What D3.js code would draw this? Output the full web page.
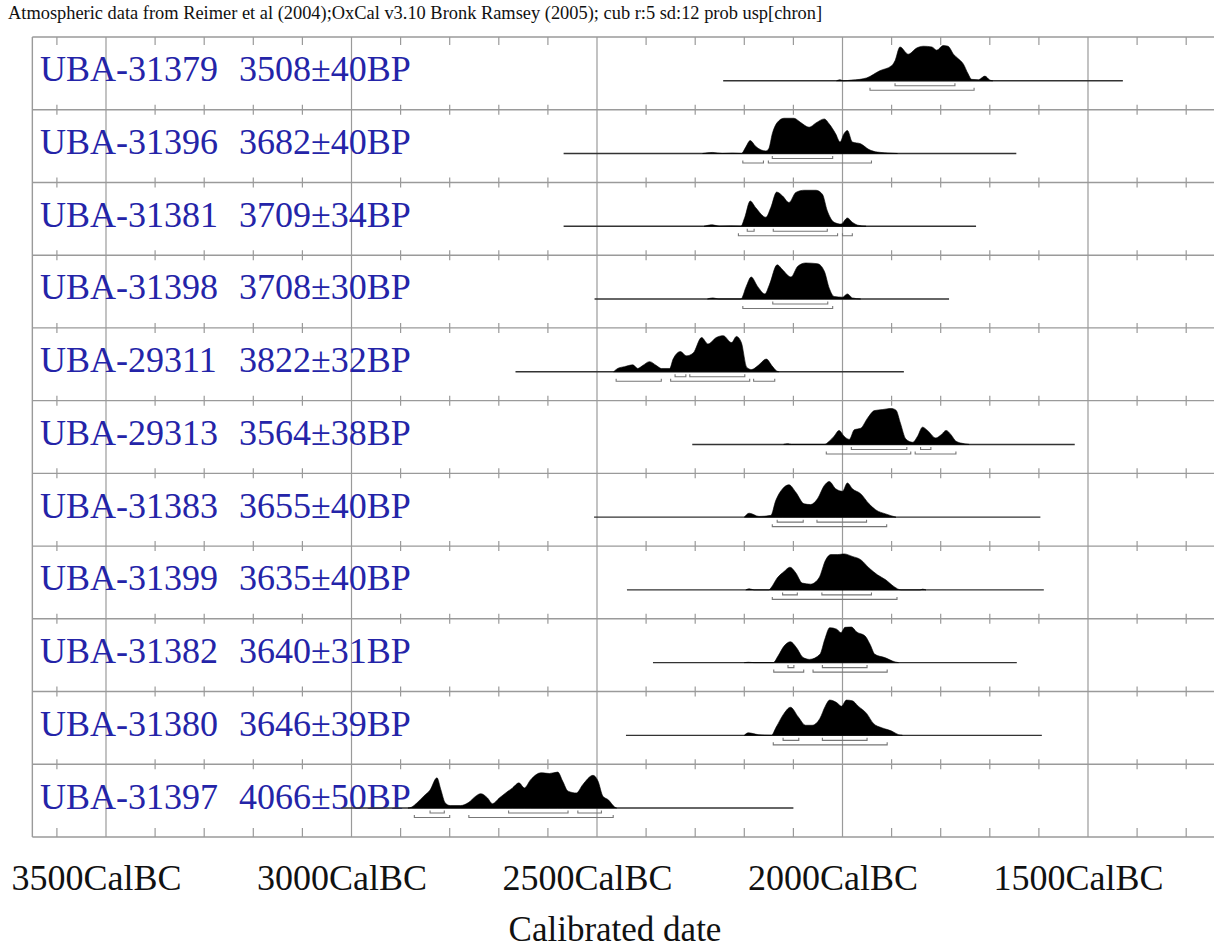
<!DOCTYPE html>
<html>
<head>
<meta charset="utf-8">
<script src="https://cdn.jsdelivr.net/npm/d3@7"></script>
<style>
  html, body { margin: 0; padding: 0; background: #fff; }
  svg { display: block; }
  text { font-family: "Liberation Serif", "Times New Roman", serif; }
</style>
</head>
<body>
<svg id="chart" width="1214" height="951"></svg>
<script>
// ---------------- DATA ----------------
const titleText = "Atmospheric data from Reimer et al (2004);OxCal v3.10 Bronk Ramsey (2005); cub r:5 sd:12 prob usp[chron]";
const axisTitle = "Calibrated date";
const tickYears = [3500, 3000, 2500, 2000, 1500];
const tickSuffix = "CalBC";

const sampleIds = ["UBA-31379", "UBA-31396", "UBA-31381", "UBA-31398", "UBA-29311", "UBA-29313",
                   "UBA-31383", "UBA-31399", "UBA-31382", "UBA-31380", "UBA-31397"];
const bpDates = ["3508±40BP", "3682±40BP", "3709±34BP", "3708±30BP", "3822±32BP", "3564±38BP",
                 "3655±40BP", "3635±40BP", "3640±31BP", "3646±39BP", "4066±50BP"];

// range of each calibration line (years BC)
const lineStart = [2243, 2568, 2568, 2505, 2666, 2306, 2506, 2439, 2386, 2441, 3021];
const lineEnd   = [1429, 1646, 1728, 1783, 1875, 1527, 1597, 1590, 1645, 1594, 2100];

// probability distributions: [year BC, relative probability]
const dist1 = [[2012,0],[2005,0.03],[1998,0],[1982,0.02],[1965,0.04],[1951,0.08],[1924,0.28],[1900,0.42],[1893,0.56],[1883,0.94],[1866,0.74],[1849,0.91],[1835,0.96],[1818,0.94],[1808,0.85],[1795,0.98],[1785,0.96],[1774,0.74],[1764,0.61],[1754,0.47],[1744,0.19],[1737,0.04],[1723,0.03],[1710,0.13],[1700,0.02],[1694,0]];
const dist2 = [[2285,0],[2265,0.03],[2245,0],[2224,0.01],[2206,0],[2197,0.18],[2188,0.36],[2177,0.2],[2156,0.07],[2150,0.14],[2143,0.55],[2133,0.86],[2119,0.98],[2099,0.98],[2085,0.86],[2068,0.73],[2054,0.85],[2037,0.96],[2027,0.82],[2014,0.55],[2005,0.32],[1997,0.55],[1990,0.64],[1980,0.32],[1963,0.27],[1946,0.11],[1929,0.04],[1901,0.01],[1888,0]];
const dist3 = [[2282,0],[2265,0.04],[2250,0],[2228,0.01],[2207,0],[2199,0.25],[2188,0.7],[2177,0.52],[2156,0.25],[2146,0.52],[2134,0.95],[2122,0.84],[2109,0.66],[2095,0.94],[2078,1.0],[2054,1.0],[2041,0.89],[2031,0.43],[2017,0.11],[2003,0.06],[1990,0.23],[1980,0.11],[1969,0.03],[1952,0]];
const dist4 = [[2275,0],[2264,0.03],[2252,0],[2207,0],[2196,0.35],[2186,0.61],[2173,0.35],[2158,0.14],[2149,0.39],[2133,0.95],[2122,0.81],[2105,0.61],[2091,0.91],[2075,1.0],[2051,0.98],[2037,0.77],[2027,0.3],[2017,0.07],[2000,0.05],[1990,0.14],[1980,0.03],[1963,0]];
const dist5 = [[2466,0],[2458,0.09],[2444,0.14],[2427,0.19],[2417,0.09],[2407,0.17],[2393,0.28],[2379,0.17],[2369,0.09],[2352,0.09],[2345,0.35],[2330,0.56],[2318,0.44],[2304,0.52],[2287,0.95],[2274,0.77],[2257,0.95],[2243,1.0],[2226,0.81],[2216,0.98],[2206,0.81],[2195,0.12],[2185,0.06],[2172,0.17],[2155,0.35],[2144,0.17],[2134,0.02],[2130,0]];
const dist6 = [[2120,0],[2112,0.02],[2104,0],[2037,0],[2027,0.09],[2017,0.23],[2007,0.39],[1997,0.23],[1986,0.14],[1976,0.41],[1963,0.45],[1949,0.73],[1935,0.94],[1918,0.97],[1901,1.0],[1891,0.95],[1882,0.59],[1871,0.15],[1857,0.06],[1847,0.23],[1837,0.48],[1827,0.39],[1810,0.18],[1799,0.27],[1789,0.39],[1779,0.27],[1769,0.09],[1752,0.02],[1742,0]];
const dist7 = [[2200,0],[2190,0.11],[2170,0.02],[2146,0.05],[2136,0.46],[2122,0.79],[2109,0.9],[2095,0.69],[2078,0.37],[2065,0.35],[2051,0.51],[2037,0.88],[2027,0.99],[2014,0.79],[2000,0.72],[1990,0.95],[1980,0.79],[1963,0.65],[1946,0.37],[1932,0.2],[1912,0.09],[1891,0]];
const dist8 = [[2197,0],[2190,0.03],[2180,0],[2150,0],[2146,0.05],[2133,0.33],[2119,0.51],[2107,0.63],[2095,0.47],[2082,0.19],[2065,0.16],[2048,0.33],[2034,0.84],[2024,0.98],[2010,0.98],[1997,1.0],[1980,0.93],[1963,0.84],[1946,0.61],[1929,0.42],[1912,0.28],[1895,0.09],[1881,0],[1842,0],[1837,0.02],[1830,0]];
const dist9 = [[2200,0],[2192,0.01],[2180,0],[2141,0],[2131,0.19],[2119,0.46],[2106,0.58],[2094,0.42],[2080,0.14],[2067,0.09],[2046,0.23],[2036,0.65],[2026,0.97],[2012,0.93],[2003,0.83],[1995,0.98],[1982,0.99],[1971,0.85],[1954,0.74],[1944,0.51],[1934,0.23],[1914,0.14],[1893,0.02],[1886,0]];
const dist10 = [[2200,0],[2192,0.07],[2172,0.02],[2145,0],[2135,0.23],[2119,0.61],[2106,0.78],[2090,0.51],[2075,0.28],[2062,0.28],[2046,0.47],[2035,0.81],[2026,0.98],[2012,0.91],[2002,0.81],[1992,0.98],[1980,0.96],[1968,0.81],[1951,0.61],[1937,0.33],[1920,0.21],[1900,0.12],[1886,0.02],[1878,0]];
const dist11 = [[2885,0],[2877,0.03],[2867,0.14],[2853,0.33],[2840,0.5],[2826,0.84],[2818,0.51],[2809,0.14],[2799,0.07],[2778,0.07],[2761,0.16],[2747,0.33],[2737,0.4],[2723,0.28],[2713,0.12],[2699,0.28],[2686,0.42],[2672,0.56],[2659,0.7],[2648,0.56],[2635,0.79],[2614,0.98],[2597,0.96],[2580,1.0],[2570,0.75],[2559,0.47],[2542,0.42],[2529,0.65],[2508,0.91],[2498,0.75],[2488,0.33],[2477,0.23],[2464,0.03],[2460,0]];
const distributions = [dist1, dist2, dist3, dist4, dist5, dist6, dist7, dist8, dist9, dist10, dist11];

// 68.2% (1 sigma) and 95.4% (2 sigma) ranges
const sigma1Ranges = [
  [[1893,1771]],
  [[2143,2020]],
  [[2194,2180],[2141,2031]],
  [[2142,2030]],
  [[2341,2319],[2311,2199]],
  [[1982,1869],[1841,1820]],
  [[2133,2080],[2052,1951]],
  [[2122,2092],[2042,1941]],
  [[2111,2099],[2041,1950]],
  [[2121,2089],[2041,1950]],
  [[2840,2811],[2680,2559],[2539,2491]]
];
const sigma2Ranges = [
  [[1944,1732]],
  [[2203,2161],[2151,1941]],
  [[2212,2010],[2000,1980]],
  [[2203,2020]],
  [[2461,2369],[2350,2189],[2181,2138]],
  [[2033,1861],[1852,1769]],
  [[2143,1910]],
  [[2143,1889]],
  [[2140,2079],[2060,1909]],
  [[2141,1909]],
  [[2872,2800],[2761,2467]]
];

// ---------------- LAYOUT ----------------
const svg = d3.select("#chart");
const frameTop = 37, frameBottom = 837;
const nRows = sampleIds.length;
const rowH = (frameBottom - frameTop) / nRows;
const x = d3.scaleLinear().domain([3500, 1500]).range([106, 1088]);
const frameLeftYear = 3650, frameRightYear = 1180;
const xL = x(frameLeftYear), xR = x(frameRightYear);
const baseOff = 43.8, peakH = 36;
const gridColor = "#9a9a9a";

// title
svg.append("text").attr("x", 8).attr("y", 19).attr("font-size", 18.4).attr("fill", "#111").text(titleText);

// frame + horizontal lines
const g = svg.append("g");
const hLines = d3.range(nRows + 1).map(i => frameTop + i * rowH);
g.selectAll("line.h").data(hLines).join("line")
  .attr("x1", xL).attr("x2", xR).attr("y1", d => d).attr("y2", d => d)
  .attr("stroke", gridColor).attr("stroke-width", 1.4);
g.append("line").attr("x1", xL).attr("x2", xL).attr("y1", frameTop).attr("y2", frameBottom)
  .attr("stroke", gridColor).attr("stroke-width", 1.4);

// vertical grid lines at major ticks
const majors = d3.range(3500, 1199, -500);
g.selectAll("line.v").data(majors).join("line")
  .attr("x1", d => x(d)).attr("x2", d => x(d)).attr("y1", frameTop).attr("y2", frameBottom)
  .attr("stroke", gridColor).attr("stroke-width", 1.2);

// minor ticks every 100 years
const minors = d3.range(3600, 1199, -100).filter(d => d % 500 !== 0);
hLines.forEach((yy, i) => {
  let y1 = yy - 5, y2 = yy + 5;
  if (i === 0) { y1 = yy; y2 = yy + 8; }
  if (i === nRows) { y1 = yy - 9; y2 = yy; }
  g.selectAll(null).data(minors).join("line")
    .attr("x1", d => x(d)).attr("x2", d => x(d)).attr("y1", y1).attr("y2", y2)
    .attr("stroke", gridColor).attr("stroke-width", 1.2);
});

// rows
const y = d3.scaleLinear().domain([0, 1]).range([0, -peakH]);
const area = d3.area().x(d => x(d[0])).y0(0).y1(d => y(d[1])).curve(d3.curveMonotoneX);

sampleIds.forEach((id, i) => {
  const base = frameTop + i * rowH + baseOff;
  const row = svg.append("g").attr("transform", `translate(0,${base})`);
  // label
  const t = row.append("text").attr("y", 0.5).attr("font-size", 36).attr("fill", "#2424a8");
  t.append("tspan").attr("x", 40).text(id);
  t.append("tspan").attr("x", 239).text(bpDates[i]);
  // baseline line
  row.append("line").attr("x1", x(lineStart[i])).attr("x2", x(lineEnd[i])).attr("y1", 0).attr("y2", 0)
    .attr("stroke", "#333").attr("stroke-width", 1.4);
  // distribution
  const data = distributions[i].slice().sort((a, b) => b[0] - a[0]);
  row.append("path").datum(data).attr("d", area).attr("fill", "#000").attr("stroke", "#000").attr("stroke-width", 0.6);
  // brackets
  const bracket = (ranges, off) => {
    ranges.forEach(r => {
      const a = x(r[0]), b = x(r[1]);
      row.append("path")
        .attr("d", `M${a},${off - 2.5}L${a},${off}L${b},${off}L${b},${off - 2.5}`)
        .attr("fill", "none").attr("stroke", "#777").attr("stroke-width", 1.1);
    });
  };
  bracket(sigma1Ranges[i], 5);
  bracket(sigma2Ranges[i], 9.5);
});

// axis
const axis = d3.axisBottom(x).tickValues(tickYears).tickSize(0).tickFormat(d => d + tickSuffix);
const ax = svg.append("g").attr("transform", `translate(0,${frameBottom})`).call(axis);
ax.select(".domain").remove();
ax.selectAll("text").attr("y", 53).attr("dy", 0).attr("dx", -10)
  .attr("font-size", 36).attr("fill", "#111").attr("font-family", "Liberation Serif, serif");

svg.append("text").attr("x", 615).attr("y", 941).attr("text-anchor", "middle")
  .attr("font-size", 35).attr("fill", "#111").text(axisTitle);
</script>
</body>
</html>
